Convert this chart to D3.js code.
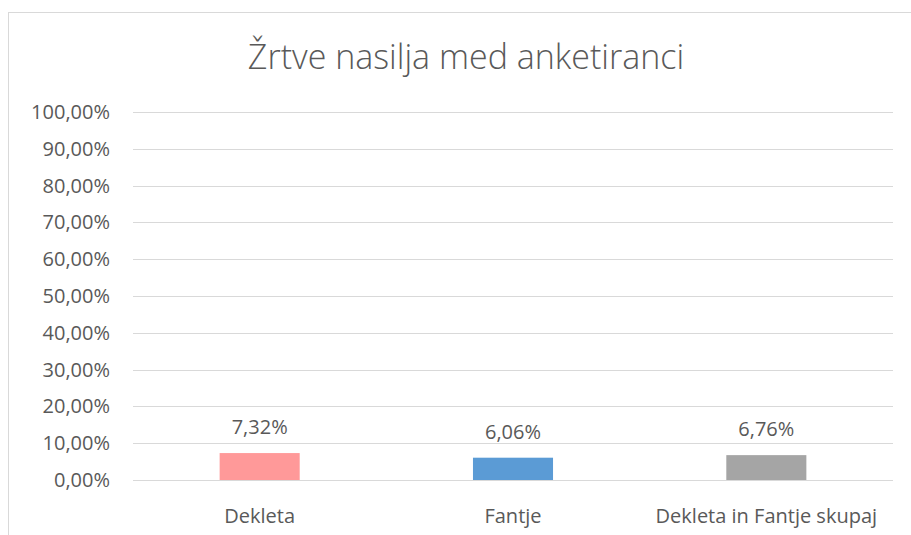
<html>
  <head>
    <style>
      body { margin: 0; background: #fff; }
      text { font-family: "Open Sans", "Noto Sans", sans-serif; fill: #595959; }
    </style>
  </head>
  <body>
    <script src="https://d3js.org/d3.v7.min.js"></script>
    <script>
    // data
    var categories = ["Dekleta", "Fantje", "Dekleta in Fantje skupaj"];
    var values = [0.0732, 0.0606, 0.0676];
    var barColors = ["#FF9999", "#5B9BD5", "#A5A5A5"];
    var yTicks = [0, 0.1, 0.2, 0.3, 0.4, 0.5, 0.6, 0.7, 0.8, 0.9, 1.0];
    var title = "Žrtve nasilja med anketiranci";

    var width = 911, height = 535;
    var plot = {left: 133, right: 893, top: 112, bottom: 480};

    var svg = d3.select("body").append("svg")
        .attr("width", width)
        .attr("height", height);

    // chart border
    svg.append("rect")
        .attr("x", 8.5).attr("y", 12.5)
        .attr("width", 920).attr("height", 540)
        .attr("fill", "none")
        .attr("stroke", "#D9D9D9");

    svg.append("text")
        .attr("x", 466).attr("y", 69)
        .attr("text-anchor", "middle")
        .style("font-size", "34px")
        .style("font-weight", 300)
        .text(title);

    var x = d3.scaleBand().domain(categories).range([plot.left, plot.right]).padding(0);
    var y = d3.scaleLinear().domain([0, 1]).range([plot.bottom, plot.top]);
    var fmt = function(v) { return d3.format(".2f")(v * 100).replace(".", ",") + "%"; };

    //gridlines
    svg.selectAll(".grid").data(yTicks).enter().append("line")
        .attr("x1", plot.left).attr("x2", plot.right)
        .attr("y1", function(d) { return Math.round(y(d)) + 0.5; })
        .attr("y2", function(d) { return Math.round(y(d)) + 0.5; })
        .attr("stroke", "#D9D9D9");

    svg.selectAll(".ylab").data(yTicks).enter().append("text")
        .attr("x", 110).attr("y", function(d) { return y(d) + 7; })
        .attr("text-anchor", "end")
        .style("font-size", "20px")
        .text(fmt);

    var bw = x.bandwidth() * 0.316;
    svg.selectAll(".bar").data(values).enter().append("rect")
        .attr("x", function(d, i) { return x(categories[i]) + (x.bandwidth() - bw) / 2; })
        .attr("y", function(d) { return y(d); })
        .attr("width", bw)
        .attr("height", function(d) { return plot.bottom - y(d); })
        .attr("fill", function(d, i) { return barColors[i]; });

    svg.selectAll(".vlab").data(values).enter().append("text")
        .attr("x", function(d, i) { return x(categories[i]) + x.bandwidth() / 2; })
        .attr("y", function(d) { return y(d) - 19; })
        .attr("text-anchor", "middle")
        .style("font-size", "20px")
        .text(fmt);

    svg.selectAll(".xlab").data(categories).enter().append("text")
        .attr("x", function(d) { return x(d) + x.bandwidth() / 2; })
        .attr("y", 523)
        .attr("text-anchor", "middle")
        .style("font-size", "20px")
        .text(function(d) { return d; });
    </script>
  </body>
</html>
